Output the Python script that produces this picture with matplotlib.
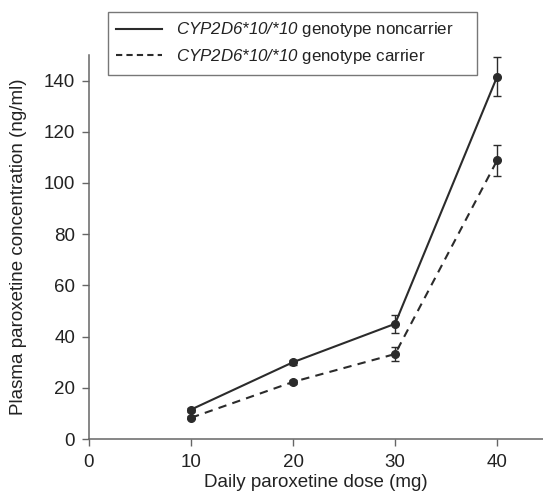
import matplotlib
matplotlib.use("Agg")
import matplotlib.pyplot as plt
from matplotlib.lines import Line2D

plt.rcParams['font.family'] = ['Liberation Sans', 'DejaVu Sans']
plt.rcParams['mathtext.fontset'] = 'custom'
plt.rcParams['mathtext.it'] = 'Liberation Sans:italic'
plt.rcParams['mathtext.rm'] = 'Liberation Sans:italic'

dose = [10, 20, 30, 40]
noncarrier = [11.5, 30.0, 45.0, 141.5]
noncarrier_err = [0.8, 1.0, 3.5, 7.7]
carrier = [8.3, 22.3, 33.2, 108.8]
carrier_err = [0.6, 0.8, 2.8, 6.2]

labels = [r"$CYP2D6{*}10/{*}10$ genotype noncarrier",
          r"$CYP2D6{*}10/{*}10$ genotype carrier"]

col = '#2b2b2b'
fig = plt.figure(figsize=(5.43, 4.94), dpi=100)
ax = fig.add_axes([0.1639, 0.1113, 0.8361, 0.7774])

ax.errorbar(dose, noncarrier, yerr=noncarrier_err, color=col, lw=1.5,
            marker='o', ms=5.5, capsize=3, elinewidth=1, capthick=1)
ax.errorbar(dose, carrier, yerr=carrier_err, color=col, lw=1.5,
            ls=(0, (4, 3)), marker='o', ms=5.5, capsize=3, elinewidth=1,
            capthick=1)

ax.set_xlim(0, 44.5)
ax.set_ylim(0, 150)
ax.set_xticks([0, 10, 20, 30, 40])
ax.set_yticks(range(0, 141, 20))
for s in ['top', 'right']:
    ax.spines[s].set_visible(False)
for s in ['left', 'bottom']:
    ax.spines[s].set_color('#666666')
    ax.spines[s].set_linewidth(1.1)
ax.tick_params(direction='out', length=5, width=1, color='#666666',
               labelsize=13.5, labelcolor='#222222', pad=5)
ax.tick_params(axis='x', pad=6)
ax.set_xlabel('Daily paroxetine dose (mg)', fontsize=13.5, color='#222222', labelpad=2)
ax.set_ylabel('Plasma paroxetine concentration (ng/ml)', fontsize=13.5,
              color='#222222', labelpad=12)

# legend sits partly above the plot area
h1 = Line2D([], [], color=col, lw=1.5)
h2 = Line2D([], [], color=col, lw=1.5, ls=(0, (3, 2)))
leg = fig.legend([h1, h2], labels, loc='upper left', mode='expand',
                 bbox_to_anchor=(108 / 543, 1 - 74 / 494, 369 / 543, 62 / 494),
                 fontsize=12.2, frameon=True, fancybox=False,
                 edgecolor='#555555', handlelength=2.7, handletextpad=0.8,
                 borderpad=0.5, labelspacing=0.45, borderaxespad=0)
leg.get_frame().set_linewidth(1.0)
for t in leg.get_texts():
    t.set_color('#222222')

fig.savefig('out.png', dpi=100)
